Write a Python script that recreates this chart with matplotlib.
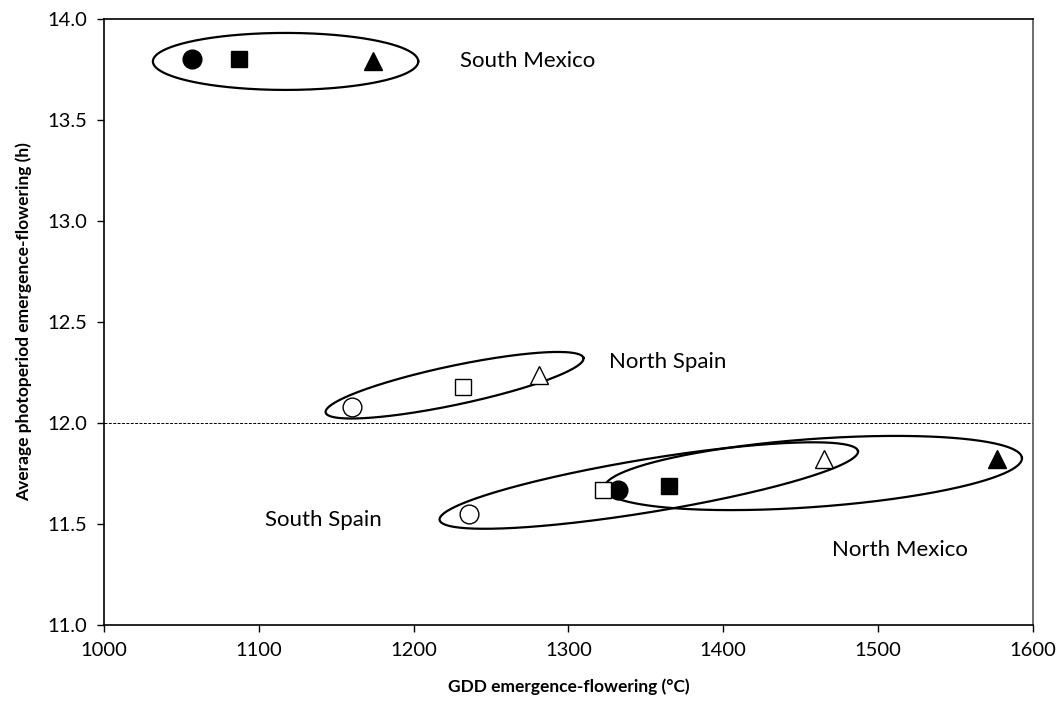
import numpy as np
import matplotlib.pyplot as plt

plt.rcParams['font.family'] = ['Lato', 'DejaVu Sans']

# symbols: circle, square, triangle (same order in every group)
markers = ['o', 's', '^']
marker_sizes = [13.5, 12, 13.5]

south_mexico_gdd = [1057, 1087, 1174]
south_mexico_ph = [13.80, 13.80, 13.79]
north_mexico_gdd = [1332, 1365, 1577]
north_mexico_ph = [11.67, 11.69, 11.82]
south_spain_gdd = [1236, 1322, 1465]
south_spain_ph = [11.55, 11.67, 11.82]
north_spain_gdd = [1160, 1232, 1281]
north_spain_ph = [12.08, 12.18, 12.24]

group_labels = ['South Mexico', 'North Spain', 'South Spain', 'North Mexico']
label_x = [1230, 1326, 1104, 1470]
label_y = [13.79, 12.30, 11.52, 11.37]

# ellipse outlines: left tip, right tip (GDD, h), thickness in pixels
ellipses = [
    ((1031.6, 13.79), (1203.0, 13.79), 57),
    ((1143.2, 12.052), (1309.7, 12.322), 39),
    ((1216.8, 11.52), (1487.0, 11.861), 53),
    ((1323.2, 11.678), (1592.9, 11.827), 68),
]

fig = plt.figure(figsize=(10.64, 7.04), dpi=100)
ax = fig.add_axes([0.0977, 0.1122, 0.8731, 0.8608])
ax.set_xlim(1000, 1600)
ax.set_ylim(11.0, 14.0)

# photoperiod 12 h reference
ax.axhline(12.0, color='black', lw=0.7, ls=(0, (3, 1.5)), zorder=1)


def draw_ellipse(p1, p2, thick):
    a1 = ax.transData.transform(p1)
    a2 = ax.transData.transform(p2)
    c = (a1 + a2) / 2
    d = a2 - a1
    semi_a = np.hypot(*d) / 2
    semi_b = thick / 2
    th = np.arctan2(d[1], d[0])
    t = np.linspace(0, 2 * np.pi, 400)
    px = c[0] + semi_a * np.cos(t) * np.cos(th) - semi_b * np.sin(t) * np.sin(th)
    py = c[1] + semi_a * np.cos(t) * np.sin(th) + semi_b * np.sin(t) * np.cos(th)
    pts = ax.transData.inverted().transform(np.column_stack([px, py]))
    ax.plot(pts[:, 0], pts[:, 1], color='black', lw=1.6, zorder=2, clip_on=False)


for p1, p2, thick in ellipses:
    draw_ellipse(p1, p2, thick)

for i in range(3):
    ax.plot(south_mexico_gdd[i], south_mexico_ph[i], markers[i], ms=marker_sizes[i],
            color='black', zorder=3)
    ax.plot(north_mexico_gdd[i], north_mexico_ph[i], markers[i], ms=marker_sizes[i],
            color='black', zorder=3)
    ax.plot(south_spain_gdd[i], south_spain_ph[i], markers[i], ms=marker_sizes[i],
            mfc='white', mec='black', mew=1.0, zorder=3)
    ax.plot(north_spain_gdd[i], north_spain_ph[i], markers[i], ms=marker_sizes[i],
            mfc='white', mec='black', mew=1.0, zorder=3)

for lab, x, y in zip(group_labels, label_x, label_y):
    ax.text(x, y, lab, fontsize=16, ha='left', va='center')

ax.set_xticks(np.arange(1000, 1601, 100))
ax.set_yticks(np.arange(11.0, 14.01, 0.5))
ax.set_yticklabels([f'{v:.1f}' for v in np.arange(11.0, 14.01, 0.5)])
ax.tick_params(direction='out', length=5, width=1, labelsize=14.5, pad=7)

for s in ['left', 'bottom', 'top']:
    ax.spines[s].set_color('black')
ax.spines['right'].set_color('#555555')
for s in ax.spines.values():
    s.set_linewidth(1.2)

ax.set_xlabel('GDD emergence-flowering (°C)', fontsize=12.5, fontweight='bold', labelpad=14)
ax.set_ylabel('Average photoperiod emergence-flowering (h)', fontsize=12.5,
              fontweight='bold', labelpad=11)

fig.savefig('out.png', dpi=100)
